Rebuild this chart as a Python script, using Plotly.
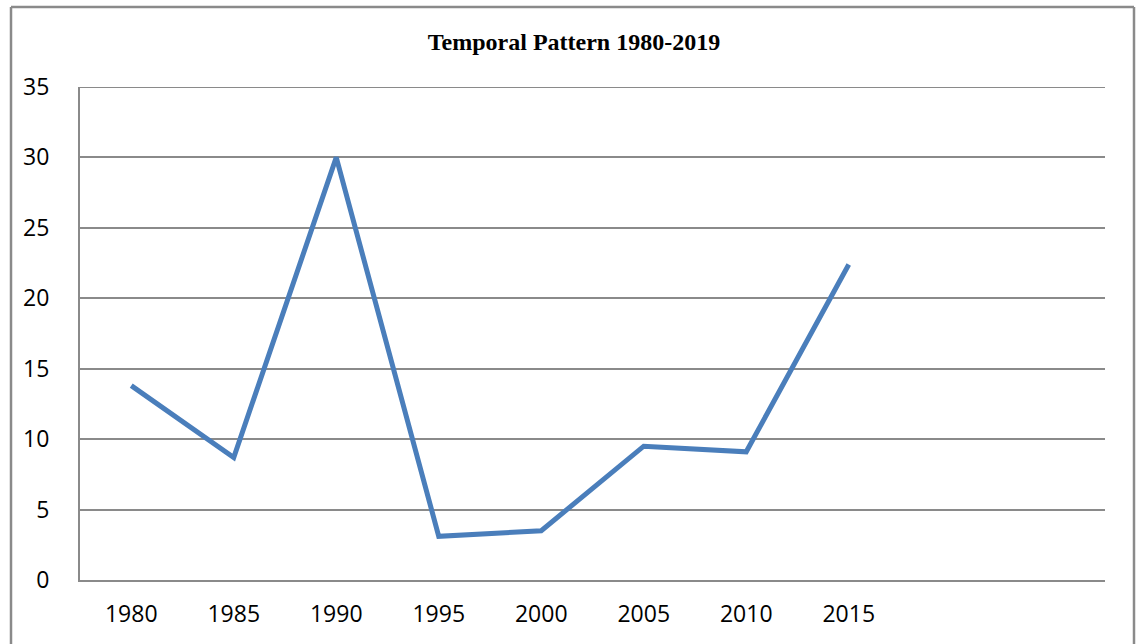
import plotly.graph_objects as go

categories = ["1980", "1985", "1990", "1995", "2000", "2005", "2010", "2015", "", ""]
values = [13.8, 8.7, 30.0, 3.1, 3.5, 9.5, 9.1, 22.4]
y_ticks = [0, 5, 10, 15, 20, 25, 30, 35]

W, H = 1141, 644
L, R, T, B = 80, 1105, 87, 580
pw, ph = R - L, B - T

fig = go.Figure()
fig.add_trace(go.Scatter(
    x=list(range(len(values))), y=values, mode="lines",
    line=dict(color="#4a7ebb", width=5), showlegend=False, hoverinfo="skip"))

fig.update_layout(
    width=W, height=H,
    margin=dict(l=L, r=W - R, t=T, b=H - B, pad=0),
    paper_bgcolor="white", plot_bgcolor="white",
    title=dict(text="<b>Temporal Pattern 1980-2019</b>", x=574 / W, xanchor="center",
               y=1 - 42 / H, yanchor="middle",
               font=dict(family="Liberation Serif", size=24, color="black")),
    xaxis=dict(range=[-0.5, len(categories) - 0.5], tickmode="array",
               tickvals=list(range(len(categories))), ticktext=categories,
               showgrid=False, zeroline=False, showline=True, linecolor="#8a8a8a",
               linewidth=2, ticks="", ticklabelstandoff=12,
               tickfont=dict(family="Open Sans", size=23, color="black")),
    yaxis=dict(range=[0, 35], tickmode="array", tickvals=y_ticks,
               showgrid=True, gridcolor="#8a8a8a", gridwidth=2, zeroline=False,
               showline=True, linecolor="#8a8a8a", linewidth=2, ticks="",
               ticklabelstandoff=24,
               tickfont=dict(family="Open Sans", size=23, color="black")),
)

# top gridline at the range maximum
fig.add_shape(type="line", xref="paper", yref="y", x0=0, x1=1, y0=y_ticks[-1], y1=y_ticks[-1],
              line=dict(color="#8a8a8a", width=2))

# outer chart border (left, top, right)
x0 = (11 - L) / pw
x1 = (1134 - L) / pw
yt = 1 + (T - 7) / ph
yb = -(H - B + 10) / ph
for (ax, ay, bx, by) in [(x0, yb, x0, yt), (x0, yt, x1, yt), (x1, yt, x1, yb)]:
    fig.add_shape(type="line", xref="paper", yref="paper", x0=ax, y0=ay, x1=bx, y1=by,
                  line=dict(color="#8a8a8a", width=2.5))

fig.write_html("out.html", config={"displayModeBar": False, "staticPlot": True},
               post_script="document.body.style.margin='0';document.body.style.overflow='hidden';")
